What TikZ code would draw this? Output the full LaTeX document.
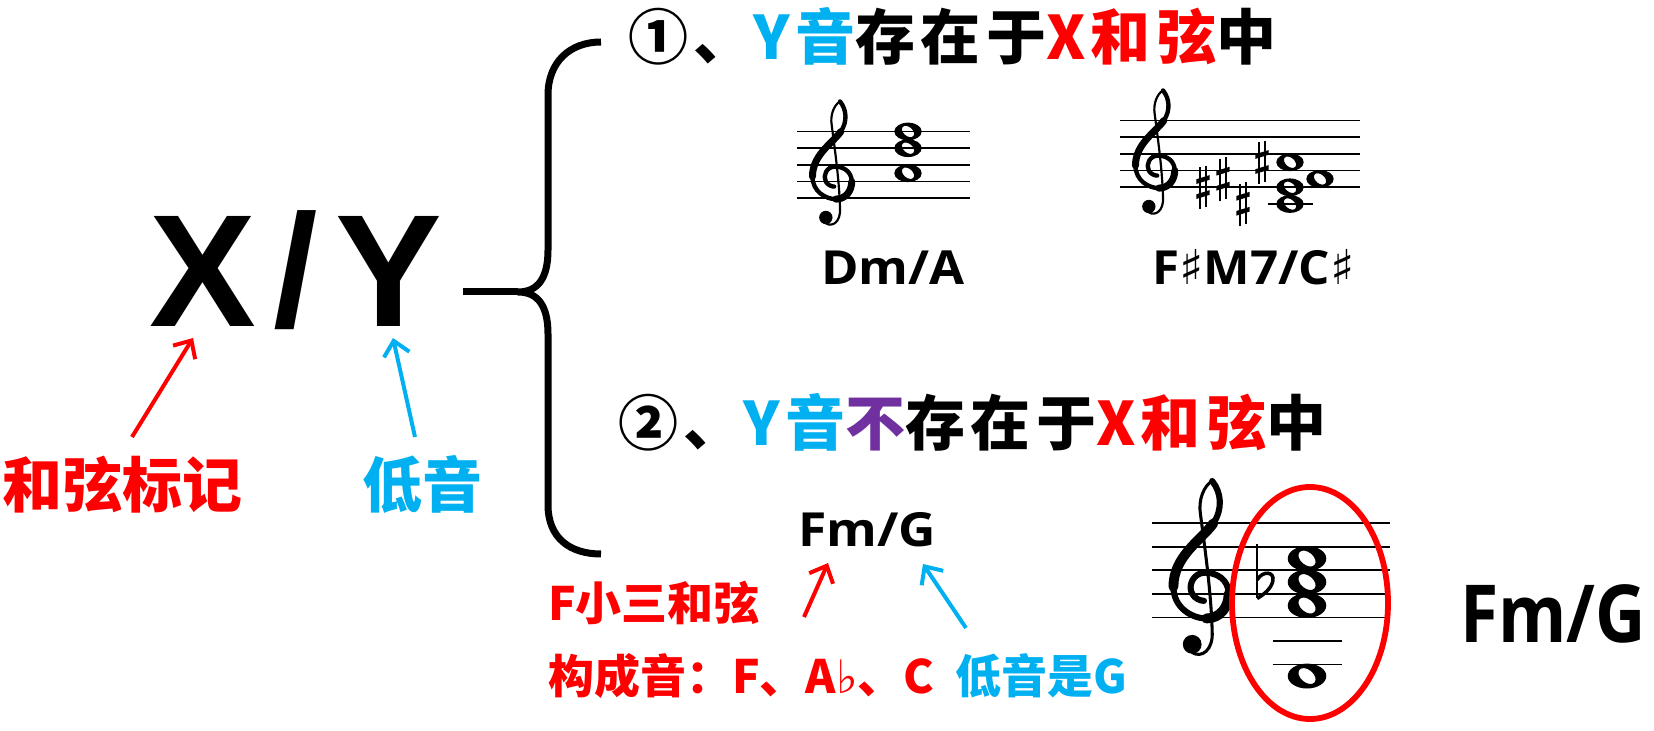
\documentclass[tikz,border=0pt]{standalone}
\usepackage{fontspec}
\usetikzlibrary{arrows.meta}
\newfontfamily\cjk{Noto Sans CJK SC}
\newfontfamily\cjksp{Noto Sans CJK SC}[LetterSpace=9]
\newfontfamily\osans{Open Sans}
\newfontfamily\lsans{Liberation Sans}
\newfontfamily\djv{DejaVu Sans}
\definecolor{myred}{HTML}{FF0000}
\definecolor{myblue}{HTML}{00B0F0}
\definecolor{mypurple}{HTML}{7030A0}

% treble clef: x, y of G line (px), staff spacing (px)
\newcommand\gclef[3]{%
  \pgfmathsetmacro\sp{#3*0.5}%
  \pgfmathsetmacro\lwthin{#3*0.5*0.13}%
  \pgfmathsetmacro\lwmid{#3*0.5*0.26}%
  \pgfmathsetmacro\lwthick{#3*0.5*0.42}%
  \begin{scope}[shift={(#1,#2)}, x=\sp pt, y=\sp pt, line cap=round, line join=round]
    \draw[line width=\lwthin pt] (0.45,4.8) .. controls (0.1,4.6) and (-0.15,4.0) .. (-0.05,3.4)
      .. controls (0.1,2.2) and (0.4,0.2) .. (0.45,-1.6)
      .. controls (0.5,-2.4) and (0.0,-2.75) .. (-0.4,-2.5);
    \fill (-0.4,-2.15) circle [radius=0.4];
    \draw[line width=\lwmid pt] (0.45,4.8) .. controls (0.85,4.3) and (0.9,3.6) .. (0.5,3.0)
      .. controls (0.0,2.3) and (-1.2,1.6) .. (-1.2,0.3)
      .. controls (-1.2,-0.6) and (-0.4,-1.05) .. (0.2,-1.05)
      .. controls (0.8,-1.05) and (1.15,-0.55) .. (1.15,0.0)
      .. controls (1.15,0.6) and (0.65,0.9) .. (0.15,0.9)
      .. controls (-0.35,0.9) and (-0.6,0.35) .. (-0.4,0.0)
      .. controls (-0.3,-0.2) and (-0.05,-0.3) .. (0.1,-0.3);
    \draw[line width=\lwthick pt] (0.5,3.0) .. controls (0.0,2.3) and (-1.2,1.6) .. (-1.2,0.3);
    \draw[line width=\lwthick pt] (0.2,-1.05) .. controls (0.8,-1.05) and (1.15,-0.55) .. (1.15,0.0);
  \end{scope}}
% whole note: x, y of bottom line, spacing, position (in spaces above bottom line)
\newcommand\wnote[4]{%
  \pgfmathsetmacro\sp{#3*0.5}%
  \begin{scope}[shift={(#1,#2-#4*#3)}, x=\sp pt, y=\sp pt]
    \fill[even odd rule] (0,0) ellipse [x radius=0.82, y radius=0.53]
      (0,0) ellipse [x radius=0.42, y radius=0.27, rotate=-40];
  \end{scope}}
% sharp
\newcommand\sharpat[4]{%
  \pgfmathsetmacro\sp{#3*0.5}%
  \pgfmathsetmacro\lwthin{#3*0.5*0.1}%
  \begin{scope}[shift={(#1,#2-#4*#3)}, x=\sp pt, y=\sp pt]
    \draw[line width=\lwthin pt] (-0.18,-1.3) -- (-0.18,1.2) (0.18,-1.2) -- (0.18,1.3);
    \fill (-0.4,-0.7) -- (0.4,-0.45) -- (0.4,-0.17) -- (-0.4,-0.42) -- cycle;
    \fill (-0.4,0.2) -- (0.4,0.45) -- (0.4,0.73) -- (-0.4,0.48) -- cycle;
  \end{scope}}
% flat
\newcommand\flatat[4]{%
  \pgfmathsetmacro\sp{#3*0.5}%
  \pgfmathsetmacro\lwthin{#3*0.5*0.09}%
  \pgfmathsetmacro\lwmid{#3*0.5*0.15}%
  \begin{scope}[shift={(#1,#2-#4*#3)}, x=\sp pt, y=\sp pt]
    \draw[line width=\lwthin pt] (-0.25,1.6) -- (-0.25,-0.7);
    \draw[line width=\lwmid pt] (-0.25,0.1) .. controls (0.0,0.5) and (0.5,0.45) .. (0.42,0.05)
      .. controls (0.35,-0.3) and (0.0,-0.55) .. (-0.25,-0.7);
  \end{scope}}

\begin{document}
\begin{tikzpicture}[x=0.5pt,y=-0.5pt,
  txt/.style={inner sep=0pt, outer sep=0pt, anchor=base west},
  staffline/.style={line width=0.8pt},
  bracestyle/.style={line width=3.5pt, line join=round},
  redarr/.style={myred, line width=2pt, -{Straight Barb[length=7pt,width=13pt]}},
  bluearr/.style={myblue, line width=2pt, -{Straight Barb[length=7pt,width=13pt]}},
  rowfont/.style={font=\cjksp\bfseries\fontsize{30}{36}\selectfont},
  labfont/.style={font=\cjk\bfseries\fontsize{30}{36}\selectfont},
  smallfont/.style={font=\cjk\bfseries\fontsize{23}{28}\selectfont},
  chordfont/.style={font=\osans\bfseries\fontsize{23.5}{28}\selectfont}]
\fill[white] (0,0) rectangle (1654,731);
\useasboundingbox (0,0) rectangle (1654,731);

% X/Y
\node[txt, anchor=base, font=\lsans\bfseries\fontsize{80}{90}\selectfont] (X) at (203,327) {X};
\node[txt, anchor=base, font=\lsans\bfseries\fontsize{80}{90}\selectfont] (S) at (296,327) {/};
\node[txt, anchor=base, font=\lsans\bfseries\fontsize{80}{90}\selectfont] (Y) at (389,327) {Y};

% left labels
\node[txt, labfont, myred] (lab1) at (3,508) {和弦标记};
\node[txt, labfont, myblue] (lab2) at (362,508) {低音};
\coordinate (a1s) at (132,437); \coordinate (a1e) at (193,338);
\coordinate (a2s) at (415,437); \coordinate (a2e) at (393,338);
\draw[redarr] (a1s) -- (a1e);
\draw[bluearr] (a2s) -- (a2e);

% brace
\coordinate (lstart) at (463,292);
\coordinate (cusp) at (518,292);
\coordinate (btop) at (601,42);
\coordinate (bbot) at (601,554);
\draw[bracestyle] (lstart) -- (cusp);
\draw[bracestyle] (btop) .. controls (570,42) and (548,62) .. (548,95) -- (548,250)
  .. controls (548,278) and (538,292) .. (cusp)
  .. controls (538,292) and (548,306) .. (548,334) -- (548,505)
  .. controls (548,538) and (570,554) .. (bbot);

% rows
\node[txt, rowfont] (row1) at (628,60) {①、\textcolor{myblue}{Y音}存在于\textcolor{myred}{X和弦}中};
\node[txt, rowfont] (row2) at (618,446) {②、\textcolor{myblue}{Y音}\textcolor{mypurple}{不}存在于\textcolor{myred}{X和弦}中};

% staff 1
\foreach \i in {0,...,4} \draw[staffline] (797,198.3-\i*16.7) -- (970,198.3-\i*16.7);
\gclef{832.5}{181.6}{16.7}
\wnote{908}{198.3}{16.7}{1.5}
\wnote{908}{198.3}{16.7}{3}
\wnote{908}{198.3}{16.7}{4}
\node[txt, chordfont] (c1) at (821,285) {\scalebox{1.08}[1]{Dm/A}};

% staff 2
\foreach \i in {0,...,4} \draw[staffline] (1120,187.3-\i*16.7) -- (1360,187.3-\i*16.7);
\gclef{1155.5}{170.6}{16.7}
\draw[staffline] (1268,204) -- (1313,204);
\sharpat{1203}{187.3}{16.7}{0}
\sharpat{1223}{187.3}{16.7}{0.5}
\sharpat{1243}{187.3}{16.7}{-1}
\sharpat{1262}{187.3}{16.7}{1.5}
\wnote{1290}{187.3}{16.7}{-1}
\wnote{1290}{187.3}{16.7}{0}
\wnote{1290}{187.3}{16.7}{1.5}
\wnote{1320}{187.3}{16.7}{0.5}
\node[txt, chordfont] (c2) at (1152,285) {\scalebox{1.05}[1]{F{\djv\mdseries\fontsize{24}{28}\selectfont ♯}M7/C{\djv\mdseries\fontsize{24}{28}\selectfont ♯}}};

% second case: Fm/G
\node[txt, chordfont] (fmg) at (798,546) {\scalebox{1.1}[1]{Fm/G}};
\node[txt, smallfont, myred] (fx) at (548,620) {F小三和弦};
\node[txt, smallfont, myred] (gc) at (548,693) {构成音：F、A{\djv\mdseries ♭}、C};
\node[txt, smallfont, myblue] (bs) at (955,693) {低音是G};
\coordinate (a3s) at (804,617); \coordinate (a3e) at (828,563);
\coordinate (a4s) at (966,628); \coordinate (a4e) at (923,564);
\draw[redarr] (a3s) -- (a3e);
\draw[bluearr] (a4s) -- (a4e);

% staff 3
\foreach \i in {0,...,4} \draw[staffline] (1152,617.3-\i*23.5) -- (1390,617.3-\i*23.5);
\gclef{1201.6}{593.8}{23.5}
\draw[staffline] (1273,640.8) -- (1342,640.8);
\draw[staffline] (1273,664.3) -- (1342,664.3);
\flatat{1263}{617.3}{23.5}{1.5}
\wnote{1307}{617.3}{23.5}{0.5}
\wnote{1307}{617.3}{23.5}{1.5}
\wnote{1307}{617.3}{23.5}{2.5}
\wnote{1307}{617.3}{23.5}{-2.5}
\draw[myred, line width=2.9pt] (1310,603) ellipse (78 and 116);
\node[txt, font=\osans\bfseries\fontsize{40}{48}\selectfont] (big) at (1460,642) {\scalebox{0.87}[1]{Fm/G}};
\end{tikzpicture}
\end{document}
